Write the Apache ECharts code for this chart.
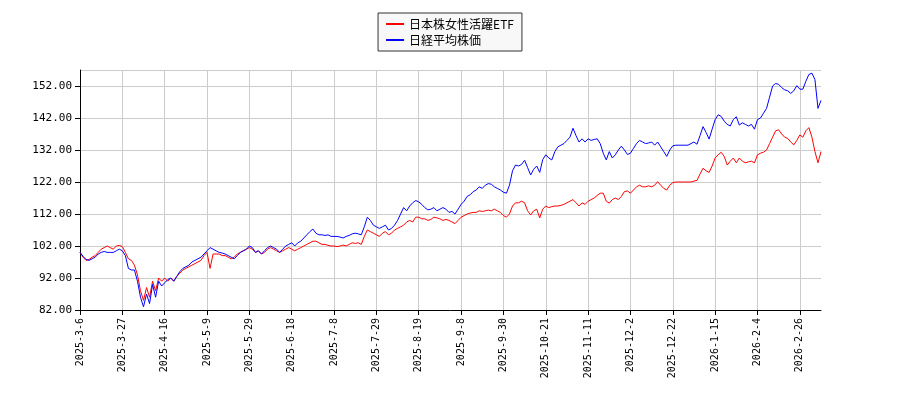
<!DOCTYPE html>
<html><head><meta charset="utf-8">
<script src="https://cdn.jsdelivr.net/npm/echarts@6/dist/echarts.min.js"></script>
<style>html,body{margin:0;padding:0;background:#fff}#c{width:900px;height:400px}</style>
</head><body><div id="c"></div>
<script>
const seriesNames = ["日本株女性活躍ETF", "日経平均株価"];
const holidays = ["2025-3-20","2025-4-29","2025-5-5","2025-5-6","2025-7-21","2025-8-11","2025-9-15","2025-9-23","2025-10-13","2025-11-3","2025-11-24","2025-12-31","2026-1-1","2026-1-2","2026-1-12","2026-2-11","2026-2-23"];
const etf = [
100,98.5,97.5,97.8,98.5,99,100,101,101.5,102,101.5,101,102,102.2,101.8,
100,98,97.5,96,93,88,85,89,86,91,88,92,91,92,
91,92,91,92.5,93.5,94.5,95,95.5,96,96.5,97,97.5,99,100,
95,99.5,99.5,99.5,99,99,98.5,98,98.5,99.5,100,100.5,101,101.5,
101,100,100.5,99.5,100,101,101.5,101,100.5,100,100.5,101,101.5,101,
100.5,101,101.5,102,102.5,103,103.5,103.5,103,102.5,102.5,102.2,102,102,
101.8,102,102.3,102,102.5,103,102.8,103,102.5,105,107,106.5,106,105.5,
105,106,106.5,105.5,106,107,107.5,108,108.5,109.5,110,109.5,111,111,
110.5,110.5,110,110.3,111,110.8,110.5,110,110.3,110,109.5,109,110,111,
111.5,112,112.3,112.5,112.5,113,112.8,113,113.2,113,113.5,113,112.5,111.5,
111,112,114.5,115.5,115.5,116,115.5,113,111.7,113,113.5,110.8,113.5,114.5,
114,114.3,114.5,114.5,114.7,115,115.5,116,116.5,115.5,114.5,115.5,115,116,
116.5,117,117.8,118.5,118.5,116,115.4,116.5,117,116.5,117.5,119,119.2,118.5,
119.5,120.5,121,120.5,120.5,120.8,120.5,121,122.1,121,120,119.5,121,121.8,
122,122,122,122,122,122,122.3,122.5,124.5,126.3,125.5,125,127,129.5,
130.5,131.3,130,127.3,128.5,129.5,128,129.5,128.5,128,128.3,128.5,128,130.5,
131,131.3,132,134,136,138,138.3,137,136,135.6,134.5,133.6,135,136.7,
136,138,139,136,131.5,128,131.5
];
const nikkei = [
100,98.8,97.8,97.5,98,98.5,99.5,100,100.3,100,100,100,100.5,101,100.5,
99,95,94.5,94.5,91,86,83,87,84,90,86,91,89.5,90.5,
91.5,92,91,92.5,94,95,95.5,96,97,97.5,98,98.5,99.5,100.5,
101.5,101,100.5,100,99.8,99.5,99,98.5,98,99,100,100.5,101,102,
101.5,100,100.5,99.5,100.5,101.5,102,101.5,101,100,101,102,102.5,103,
102,103,103.5,104.5,105.5,106.5,107.3,106,105.5,105.5,105.3,105.5,105,105,
105,104.8,104.5,105,105.3,105.8,106,105.8,105.5,108,111,110,108.5,108,
107.5,108,108.5,107,107.5,108.5,110,112,114,113,114.5,115.5,116.2,115.8,
115,114,113.3,113.5,114,113,113.5,114,113.5,112.5,112.8,112,113.5,115,
116,117.5,118,119,119.5,120.5,120,121,121.5,121.3,120.5,120,119.5,118.8,
118.5,121,125.5,127.3,127,127.5,128.8,126.5,124.2,126,127,125,129,130.5,
129.5,128.9,131.5,133,133.5,134,135,136,138.8,136.5,134.5,135.5,134.5,135.5,
135,135.3,135.5,134,131,128.9,131.5,129.5,130.5,132,133.2,132,130.6,131,
132.5,134,135,134.5,134,134.2,134.5,133.5,134.5,133,131.5,130,132,133.3,
133.5,133.5,133.5,133.5,133.5,134,134.5,133.8,136.5,139.3,137.5,135.4,138.5,141.5,
143,142.5,141,140,139.5,141.5,142.4,139.8,140.5,140,139.5,140,138.5,141.5,
142,143.5,145,148.5,152,152.8,152.5,151.5,150.8,150.5,149.7,150.5,152.1,151,
151,153.5,155.6,156,154,145,147.5
];
// trading-day category labels starting 2025-3-6
const dates = [];
(function(){
  const d = new Date(2025, 2, 6);
  while (dates.length < etf.length) {
    const s = d.getFullYear() + "-" + (d.getMonth()+1) + "-" + d.getDate();
    const wd = d.getDay();
    if (wd !== 0 && wd !== 6 && holidays.indexOf(s) < 0) dates.push(s);
    d.setDate(d.getDate()+1);
  }
})();
const chart = echarts.init(document.getElementById('c'));
chart.setOption({
  animation: false,
  textStyle: { fontFamily: 'DejaVu Sans' },
  legend: {
    top: 13, left: 'center', orient: 'vertical',
    data: seriesNames,
    borderColor: '#333', borderWidth: 1, borderRadius: 0,
    backgroundColor: '#f8f8f8',
    padding: [5, 8], itemGap: 4, itemWidth: 18, itemHeight: 2,
    icon: 'rect',
    textStyle: { fontSize: 12, color: '#000', fontFamily: 'Noto Sans CJK JP' }
  },
  grid: { left: 80, right: 79, top: 70, bottom: 90 },
  xAxis: {
    type: 'category', data: dates, boundaryGap: false,
    axisLine: { lineStyle: { color: '#000' } },
    axisTick: { interval: 13, lineStyle: { color: '#000' } },
    axisLabel: { interval: 13, rotate: 90, fontSize: 10, color: '#000', fontFamily: 'DejaVu Sans Mono' },
    splitLine: { show: true, interval: 13, lineStyle: { color: '#ccc' } }
  },
  yAxis: {
    type: 'value', min: 82, max: 157, interval: 10,
    axisLine: { show: true, lineStyle: { color: '#000' } },
    axisTick: { show: true, lineStyle: { color: '#000' } },
    axisLabel: { showMaxLabel: false, fontSize: 11, color: '#000', fontFamily: 'DejaVu Sans Mono',
      formatter: v => v.toFixed(2) },
    splitLine: { lineStyle: { color: '#ccc' } }
  },
  series: [
    { name: seriesNames[0], type: 'line', data: etf, symbol: 'none', lineStyle: { width: 1, color: '#ff0000' }, itemStyle: { color: '#ff0000' } },
    { name: seriesNames[1], type: 'line', data: nikkei, symbol: 'none', lineStyle: { width: 1, color: '#0000ff' }, itemStyle: { color: '#0000ff' } }
  ]
});
</script></body></html>
